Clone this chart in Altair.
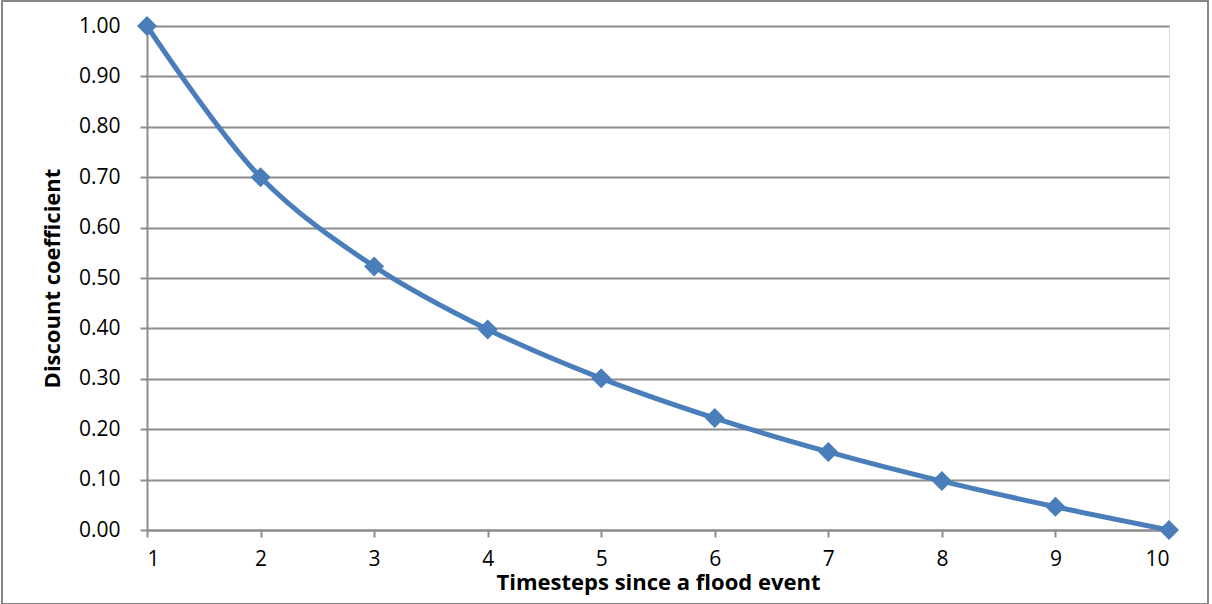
import altair as alt
import pandas as pd

timesteps = [1, 2, 3, 4, 5, 6, 7, 8, 9, 10]
coefficients = [1.00, 0.70, 0.523, 0.398, 0.301, 0.222, 0.155, 0.097, 0.046, 0.00]
y_ticks = [0.0, 0.1, 0.2, 0.3, 0.4, 0.5, 0.6, 0.7, 0.8, 0.9, 1.0]

df = pd.DataFrame({"t": timesteps, "c": coefficients})

FONT = "Open Sans"
BLUE = "#4a7ebb"
GRID = "#8c8c8c"

x_enc = alt.X(
    "t:Q",
    scale=alt.Scale(domain=[1, 10], nice=False, zero=False),
    axis=alt.Axis(
        values=timesteps,
        format="d",
        title="Timesteps since a flood event",
        grid=False,
        tickSize=7,
        tickColor=GRID,
        tickWidth=2,
        domainColor=GRID,
        domainWidth=2,
        labelFontSize=21,
        labelFont=FONT,
        labelColor="black",
        labelPadding=11,
        titleFont=FONT,
        titleFontSize=22,
        titleFontWeight="bold",
        titleColor="black",
        titleY=59,
        titleBaseline="alphabetic",
    ),
)
y_enc = alt.Y(
    "c:Q",
    scale=alt.Scale(domain=[0, 1], nice=False),
    axis=alt.Axis(
        values=y_ticks,
        format=".2f",
        title="Discount coefficient",
        grid=True,
        gridColor=GRID,
        gridWidth=2,
        tickSize=7,
        tickColor=GRID,
        tickWidth=2,
        domainColor=GRID,
        domainWidth=2,
        labelFontSize=21,
        labelFont=FONT,
        labelColor="black",
        labelPadding=20,
        titleFont=FONT,
        titleFontSize=22,
        titleFontWeight="bold",
        titleColor="black",
        titleX=-95,
        titleY=252,
        titleAngle=-90,
        titleBaseline="middle",
        titleAlign="center",
    ),
)

base = alt.Chart(df)
line = base.mark_line(color=BLUE, strokeWidth=5, interpolate="catmull-rom").encode(x=x_enc, y=y_enc)
pts = base.mark_point(shape="diamond", filled=True, color=BLUE, size=400, opacity=1).encode(x="t:Q", y="c:Q")

border = alt.Chart(alt.Data(values=[{"a": 1}])).mark_rect(
    fill=None, stroke="#868686", strokeWidth=2, clip=False
).encode(
    x=alt.value(-145), x2=alt.value(1061), y=alt.value(-25), y2=alt.value(578)
)

chart = alt.layer(border, line, pts).properties(
    width=1022,
    height=504,
    autosize=alt.AutoSizeParams(type="none"),
    padding={"left": 147, "top": 26, "right": 43, "bottom": 74},
).configure_view(stroke=None).configure(background="white")

chart.save("out.html", embed_options={"renderer": "svg", "actions": False})
